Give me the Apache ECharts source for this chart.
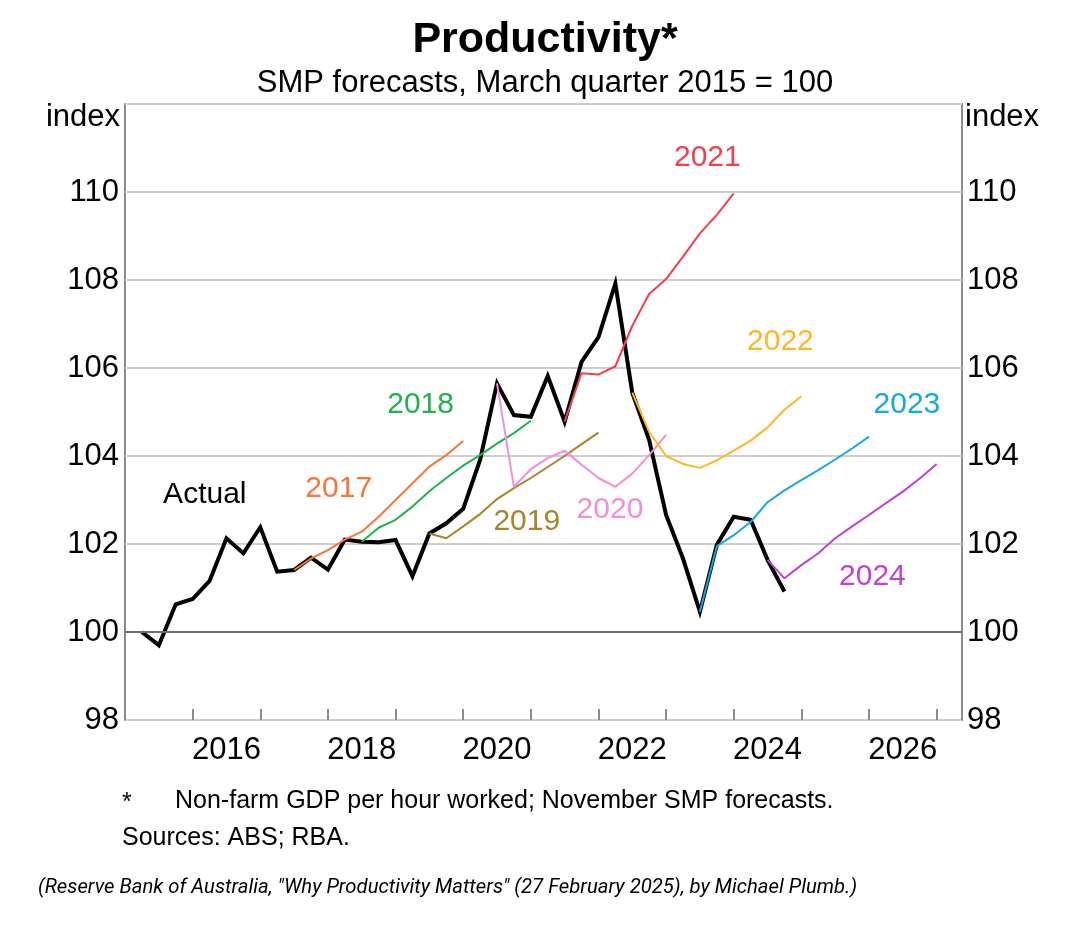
<!DOCTYPE html>
<html>
<head>
<meta charset="utf-8">
<script src="https://cdn.jsdelivr.net/npm/echarts@6/dist/echarts.min.js"></script>
<style>
html,body{margin:0;padding:0;background:#fff;}
#chart{width:1080px;height:933px;}
</style>
</head>
<body>
<div id="chart"></div>
<script>
// ---- Data (quarterly, index March quarter 2015 = 100) ----
const actualStart = '2015Q1';
const actual = [
  100.0, 99.7, 100.63, 100.75,
  101.16, 102.13, 101.79, 102.38,
  101.37, 101.41, 101.69, 101.42,
  102.1, 102.05, 102.04, 102.09,
  101.27, 102.24, 102.47, 102.8,
  103.91, 105.65, 104.93, 104.89,
  105.82, 104.78, 106.14, 106.7,
  107.92, 105.44, 104.36, 102.66,
  101.67, 100.46, 101.98, 102.62,
  102.55, 101.64, 100.92
];
const fc2017Start = '2017Q2';
const fc2017 = [101.41, 101.67, 101.86, 102.1, 102.28, 102.62, 103.0, 103.38, 103.76, 104.02, 104.34];
const fc2018Start = '2018Q2';
const fc2018 = [102.05, 102.37, 102.55, 102.85, 103.2, 103.5, 103.78, 104.02, 104.28, 104.52, 104.8];
const fc2019Start = '2019Q2';
const fc2019 = [102.24, 102.13, 102.4, 102.68, 103.02, 103.27, 103.5, 103.75, 104.0, 104.27, 104.53];
const fc2020Start = '2020Q2';
const fc2020 = [105.65, 103.3, 103.7, 103.95, 104.12, 103.8, 103.5, 103.3, 103.6, 104.02, 104.48];
const fc2021Start = '2021Q2';
const fc2021 = [104.78, 105.88, 105.85, 106.04, 106.96, 107.68, 108.02, 108.53, 109.06, 109.48, 109.97];
const fc2022Start = '2022Q2';
const fc2022 = [105.44, 104.55, 104.0, 103.82, 103.73, 103.9, 104.12, 104.35, 104.65, 105.05, 105.36];
const fc2023Start = '2023Q2';
const fc2023 = [100.46, 101.95, 102.2, 102.5, 102.95, 103.22, 103.45, 103.68, 103.92, 104.17, 104.44];
const fc2024Start = '2024Q2';
const fc2024 = [101.64, 101.22, 101.52, 101.79, 102.13, 102.4, 102.66, 102.93, 103.19, 103.49, 103.82];

const yTicks = [98, 100, 102, 104, 106, 108, 110];
const xYearLabels = [2016, 2018, 2020, 2022, 2024, 2026];

// series label names and anchor (year, index) for annotation text
const labelNames = ['Actual', '2017', '2018', '2019', '2020', '2021', '2022', '2023', '2024'];
const labelYears = [2016.18, 2018.16, 2019.37, 2020.94, 2022.17, 2023.61, 2024.69, 2026.56, 2026.05];
const labelValues = [103.11, 103.25, 105.16, 102.5, 102.77, 110.77, 106.59, 105.16, 101.25];

// ---- Helpers ----
function qToYear(startStr, i) {
  const y = parseInt(startStr.slice(0, 4), 10);
  const q = parseInt(startStr.slice(5), 10);
  // plotted at end of quarter
  return y + (q - 1 + i + 1) * 0.25;
}
function pairs(startStr, vals) {
  return vals.map((v, i) => [qToYear(startStr, i), v]);
}

const colors = {
  Actual: '#000000',
  '2017': '#F7773A',
  '2018': '#22B24C',
  '2019': '#A8852A',
  '2020': '#F48ED6',
  '2021': '#F1404E',
  '2022': '#FDB728',
  '2023': '#1AA7E1',
  '2024': '#BF44C9'
};

const forecasts = [
  ['2017', fc2017Start, fc2017],
  ['2018', fc2018Start, fc2018],
  ['2019', fc2019Start, fc2019],
  ['2020', fc2020Start, fc2020],
  ['2021', fc2021Start, fc2021],
  ['2022', fc2022Start, fc2022],
  ['2023', fc2023Start, fc2023],
  ['2024', fc2024Start, fc2024]
];

const FONT = '"Liberation Sans", Arial, sans-serif';
const FS = 31;

const series = [];
series.push({
  name: 'base100',
  type: 'line',
  data: [],
  silent: true,
  markLine: {
    silent: true,
    symbol: 'none',
    label: {show: false},
    lineStyle: {color: '#6e6e6e', width: 2, type: 'solid'},
    data: [{yAxis: 100}]
  },
  z: 1
});
series.push({
  name: 'Actual',
  type: 'line',
  data: pairs(actualStart, actual),
  showSymbol: false,
  symbol: 'none',
  lineStyle: {color: colors.Actual, width: 4, join: 'miter'},
  z: 3
});
forecasts.forEach(([name, start, vals]) => {
  series.push({
    name: name,
    type: 'line',
    data: pairs(start, vals),
    symbol: 'none',
    lineStyle: {color: colors[name], width: 2},
    z: 4
  });
});
series.push({
  name: 'labels',
  type: 'scatter',
  symbolSize: 0,
  silent: true,
  itemStyle: {opacity: 1},
  data: labelNames.map((n, i) => ({
    name: n,
    value: [labelYears[i], labelValues[i]],
    label: {color: colors[n]}
  })),
  label: {
    show: true,
    position: 'inside',
    fontFamily: FONT,
    fontSize: FS - 1,
    formatter: p => p.name
  },
  z: 5
});

const yLabel = {
  fontFamily: FONT,
  fontSize: FS,
  color: '#000',
  formatter: v => (yTicks.indexOf(v) >= 0 ? String(v) : '')
};

const option = {
  animation: false,
  backgroundColor: '#ffffff',
  title: [
    {
      text: 'Productivity*',
      left: 540, top: 14, textAlign: 'center',
      textStyle: {fontFamily: FONT, fontSize: 43, fontWeight: 'bold', color: '#000'}
    },
    {
      text: 'SMP forecasts, March quarter 2015 = 100',
      left: 540, top: 63, textAlign: 'center',
      textStyle: {fontFamily: FONT, fontSize: FS, fontWeight: 'normal', color: '#000'}
    }
  ],
  grid: {
    left: 125, right: 118, top: 104, bottom: 213,
    show: true, borderColor: '#8c8c8c', borderWidth: 2, containLabel: false
  },
  xAxis: [
    {
      type: 'value', min: 2015, max: 2027.375, interval: 0.5,
      axisLine: {show: false},
      axisTick: {show: false},
      splitLine: {show: false},
      axisLabel: {
        fontFamily: FONT, fontSize: FS, color: '#000', margin: 15,
        showMinLabel: true, showMaxLabel: true,
        formatter: v => {
          const yr = Math.floor(v);
          return (Math.abs(v - yr - 0.5) < 1e-6 && xYearLabels.indexOf(yr) >= 0) ? String(yr) : '';
        }
      }
    },
    {
      type: 'value', min: 2015, max: 2027.375, interval: 1,
      position: 'bottom',
      axisLine: {show: false},
      axisTick: {show: true, inside: true, length: 11, lineStyle: {color: '#8c8c8c', width: 2}},
      axisLabel: {show: false},
      splitLine: {show: false}
    }
  ],
  yAxis: [
    {
      type: 'value', min: 98, max: 112, interval: 2, position: 'left',
      axisLine: {show: false}, axisTick: {show: false},
      axisLabel: Object.assign({margin: 6}, yLabel),
      splitLine: {show: true, lineStyle: {color: '#cfcfcf', width: 2}}
    },
    {
      type: 'value', min: 98, max: 112, interval: 2, position: 'right',
      axisLine: {show: false}, axisTick: {show: false},
      axisLabel: Object.assign({margin: 5}, yLabel),
      splitLine: {show: false}
    }
  ],
  graphic: [
    {type: 'text', right: 960, top: 102,
     style: {text: 'index', fontFamily: FONT, fontSize: FS, fill: '#000', textAlign: 'right'}},
    {type: 'text', left: 965, top: 102,
     style: {text: 'index', fontFamily: FONT, fontSize: FS, fill: '#000'}},
    {type: 'text', left: 122, top: 791,
     style: {text: '*', fontFamily: FONT, fontSize: 25, fill: '#000'}},
    {type: 'text', left: 175, top: 789,
     style: {text: 'Non-farm GDP per hour worked; November SMP forecasts.', fontFamily: FONT, fontSize: 25, fill: '#000'}},
    {type: 'text', left: 122, top: 826,
     style: {text: 'Sources: ABS; RBA.', fontFamily: FONT, fontSize: 25, fill: '#000'}},
    {type: 'text', left: 38, top: 878,
     style: {text: '(Reserve Bank of Australia, "Why Productivity Matters" (27 February 2025), by Michael Plumb.)',
             fontFamily: 'Roboto, "Noto Sans", sans-serif', fontStyle: 'italic', fontSize: 20.3, fill: '#000'}}
  ],
  series: series
};

const chart = echarts.init(document.getElementById('chart'), null, {renderer: 'canvas'});
chart.setOption(option);
</script>
</body>
</html>
